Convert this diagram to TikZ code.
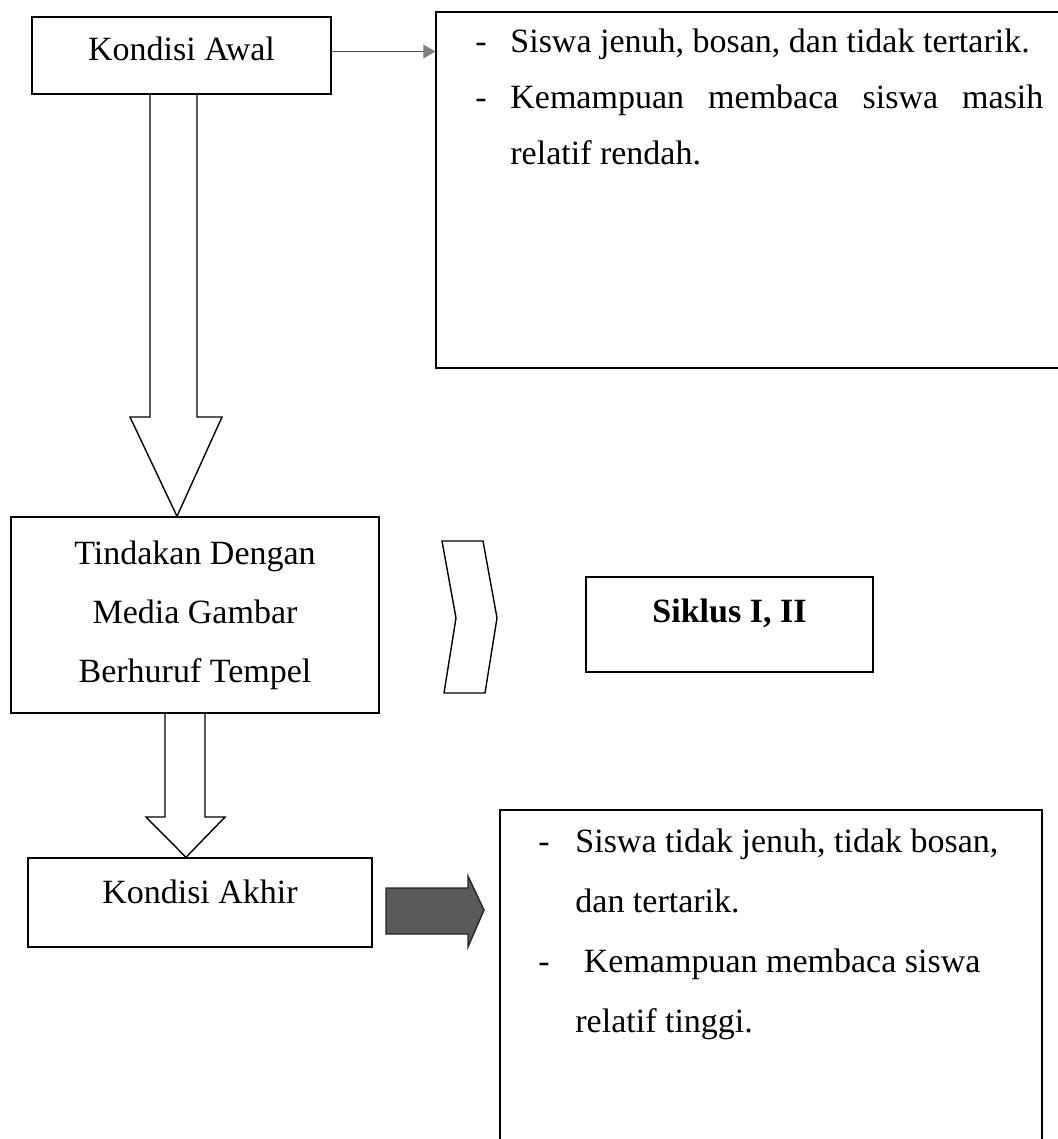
\documentclass[tikz,border=0pt]{standalone}
\usepackage{fontspec}
\setmainfont{Liberation Serif}
\usetikzlibrary{arrows.meta}

\begin{document}
\begin{tikzpicture}[x=0.5pt, y=-0.5pt,
  boxnode/.style={draw, line width=0.7pt, inner sep=0pt, font=\fontsize{17}{29.5}\selectfont},
  listtext/.style={anchor=base west, inner sep=0pt},
  blockarrow/.style={draw, line width=0.7pt, line join=miter},
  darkarrow/.style={draw=black!85, line width=0.7pt, fill=black!65}]
\useasboundingbox (0,0) rectangle (1058,1139);
\clip (0,0) rectangle (1058,1139);
%left column
\node[boxnode, minimum width=149.5pt, text height=22pt, text depth=16.5pt] (awal) at (181.5,55.5) {Kondisi Awal};
\node[boxnode, minimum width=184pt, minimum height=98pt, align=center] (tindakan) at (195,615) {Tindakan Dengan\\Media Gambar\\Berhuruf Tempel};
\node[boxnode, minimum width=172pt, text height=22.5pt, text depth=22pt] (akhir) at (200,902.5) {Kondisi Akhir};
%right column
\node[boxnode, minimum width=332pt, minimum height=178pt] (ket1) at (768,190) {};
\node[listtext, font=\fontsize{17}{28}\selectfont] (ket1txt) at (475,53) {\begin{tabular}[t]{@{}p{17.5pt}@{}l@{}}
- & Siswa jenuh, bosan, dan tidak tertarik.\\
- & \makebox[266.5pt][s]{Kemampuan membaca siswa masih}\\
  & relatif rendah.
\end{tabular}};
\node[boxnode, minimum width=143.5pt, text height=22.5pt, text depth=25pt, font=\fontsize{17}{20}\selectfont\bfseries] (siklus) at (729.5,624.5) {Siklus I, II};
\node[boxnode, minimum width=271pt, minimum height=195pt] (ket2) at (771,1005) {};
\node[listtext, font=\fontsize{17}{30}\selectfont] (ket2txt) at (538,852) {\begin{tabular}[t]{@{}p{18.5pt}@{}l@{}}
- & Siswa tidak jenuh, tidak bosan,\\
  & dan tertarik.\\
- & \ Kemampuan membaca siswa\\
  & relatif tinggi.
\end{tabular}};
%arrows
\draw[line width=0.6pt, black!70, -{Triangle[length=6pt, width=7pt, color=gray]}] ([yshift=2pt]awal.east) -- ([yshift=2pt]awal.east -| ket1.west);
\draw[blockarrow] (awal.south -| 150,0) -- (150,417) -- (130,417) -- (tindakan.north -| 177,0) -- (222,417) -- (197,417) -- (awal.south -| 197,0);
\draw[blockarrow] (tindakan.south -| 165,0) -- (165,817) -- (146,817) -- (akhir.north -| 186,0) -- (225,817) -- (205,817) -- (tindakan.south -| 205,0);
%chevron and dark arrow
\draw[blockarrow] (442,541) -- (483,541) -- (497,618) -- (485,693) -- (444,693) -- (456,618) -- cycle;
\draw[darkarrow] (386,888) -- (468,888) -- (468,876) -- (484,910) -- (468,947) -- (468,934) -- (386,934) -- cycle;
\end{tikzpicture}
\end{document}
